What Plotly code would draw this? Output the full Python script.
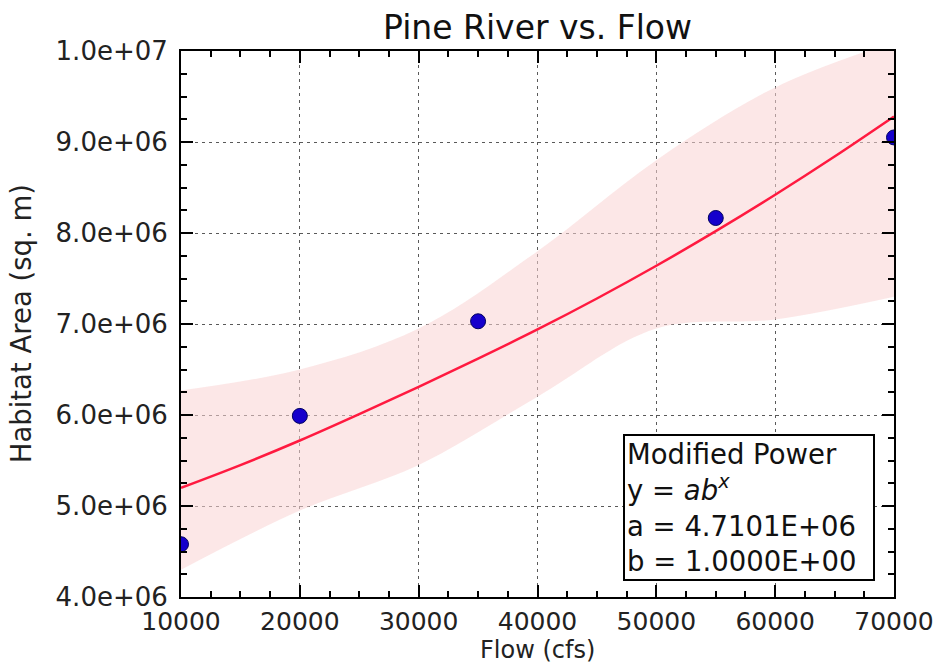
import plotly.graph_objects as go

# Observed data
flow = [10000, 20000, 35000, 55000, 70000]
habitat = [4.58e6, 5.99e6, 7.03e6, 8.165e6, 9.05e6]

# Fitted curve
fit_x = [10000, 15000, 20000, 25000, 30000, 35000, 40000, 45000, 50000, 55000, 60000, 65000, 70000]
fit_y = [5.20e6, 5.45e6, 5.72e6, 6.01e6, 6.31e6, 6.62e6, 6.94e6, 7.28e6, 7.64e6, 8.02e6, 8.42e6, 8.84e6, 9.28e6]

# Shaded band
band_x = [10000, 20000, 30000, 40000, 50000, 60000, 70000]
band_upper = [6.27e6, 6.5e6, 6.95e6, 7.8e6, 8.8e6, 9.6e6, 10.1e6]
band_lower = [4.3e6, 4.95e6, 5.45e6, 6.2e6, 6.95e6, 7.05e6, 7.3e6]

y_tickvals = [4e6, 5e6, 6e6, 7e6, 8e6, 9e6, 10e6]
y_ticktext = ["4.0e+06", "5.0e+06", "6.0e+06", "7.0e+06", "8.0e+06", "9.0e+06", "1.0e+07"]
x_tickvals = [10000, 20000, 30000, 40000, 50000, 60000, 70000]
x_ticktext = ["10000", "20000", "30000", "40000", "50000", "60000", "70000"]

legend_lines = ["Modified Power", "y = <i>ab</i><sup><i>x</i></sup>", "a = 4.7101E+06", "b = 1.0000E+00"]

FONT = "DejaVu Sans"

fig = go.Figure()
fig.add_trace(go.Scatter(x=band_x, y=band_lower, mode="lines", line=dict(width=0, shape="spline"),
                         showlegend=False, hoverinfo="skip"))
fig.add_trace(go.Scatter(x=band_x, y=band_upper, mode="lines", line=dict(width=0, shape="spline"),
                         fill="tonexty", fillcolor="rgba(250,212,212,0.55)", showlegend=False, hoverinfo="skip"))
fig.add_trace(go.Scatter(x=fit_x, y=fit_y, mode="lines", line=dict(color="#ff1a40", width=2.5, shape="spline"),
                         showlegend=False))
fig.add_trace(go.Scatter(x=flow, y=habitat, mode="markers",
                         marker=dict(size=15, color="#1500cc", line=dict(color="#000060", width=1)),
                         showlegend=False))

axis_common = dict(
    showline=True, linecolor="black", linewidth=2, mirror="allticks",
    ticks="inside", ticklen=12, tickwidth=1.5, tickcolor="black",
    showgrid=True, gridcolor="rgba(0,0,0,0.65)", gridwidth=1, griddash="3px,4px",
    zeroline=False, automargin=False,
)

fig.update_xaxes(range=[10000, 70000], tickvals=x_tickvals, ticktext=x_ticktext,
                 minor=dict(dtick=2500, tick0=10000, ticks="inside", ticklen=6, tickcolor="black", showgrid=False),
                 ticklabelstandoff=1, tickfont=dict(family=FONT, size=25, color="#222222"),
                 **axis_common)
fig.update_yaxes(range=[4e6, 10e6], tickvals=y_tickvals, ticktext=y_ticktext,
                 minor=dict(dtick=250000, tick0=4e6, ticks="inside", ticklen=6, tickcolor="black", showgrid=False),
                 ticklabelstandoff=6, tickfont=dict(family=FONT, size=26, color="#222222"),
                 **axis_common)

fig.add_annotation(text="<br>".join(legend_lines), xref="paper", yref="paper", x=0.62, y=0.2985,
                   xanchor="left", yanchor="top", align="left", showarrow=False, width=244,
                   font=dict(family=FONT, size=27.5, color="#111111"),
                   bordercolor="black", borderwidth=2, borderpad=2, bgcolor="white")

fig.add_annotation(text="Flow (cfs)", xref="paper", yref="paper", x=0.5, y=-0.097,
                   xanchor="center", yanchor="middle", showarrow=False,
                   font=dict(family=FONT, size=24, color="#222222"))
fig.add_annotation(text="Habitat Area (sq. m)", xref="paper", yref="paper", x=-0.224, y=0.5,
                   xanchor="center", yanchor="middle", textangle=-90, showarrow=False,
                   font=dict(family=FONT, size=27.5, color="#222222"))

fig.update_layout(
    width=940, height=665,
    margin=dict(l=181, r=46, t=51, b=68),
    paper_bgcolor="white", plot_bgcolor="white",
    title=dict(text="Pine River vs. Flow", x=0.5, xref="paper", y=1 - 27 / 665, yref="container",
               xanchor="center", yanchor="middle", font=dict(family=FONT, size=33, color="#111111")),
    showlegend=False,
)

fig.write_html("out.html")
